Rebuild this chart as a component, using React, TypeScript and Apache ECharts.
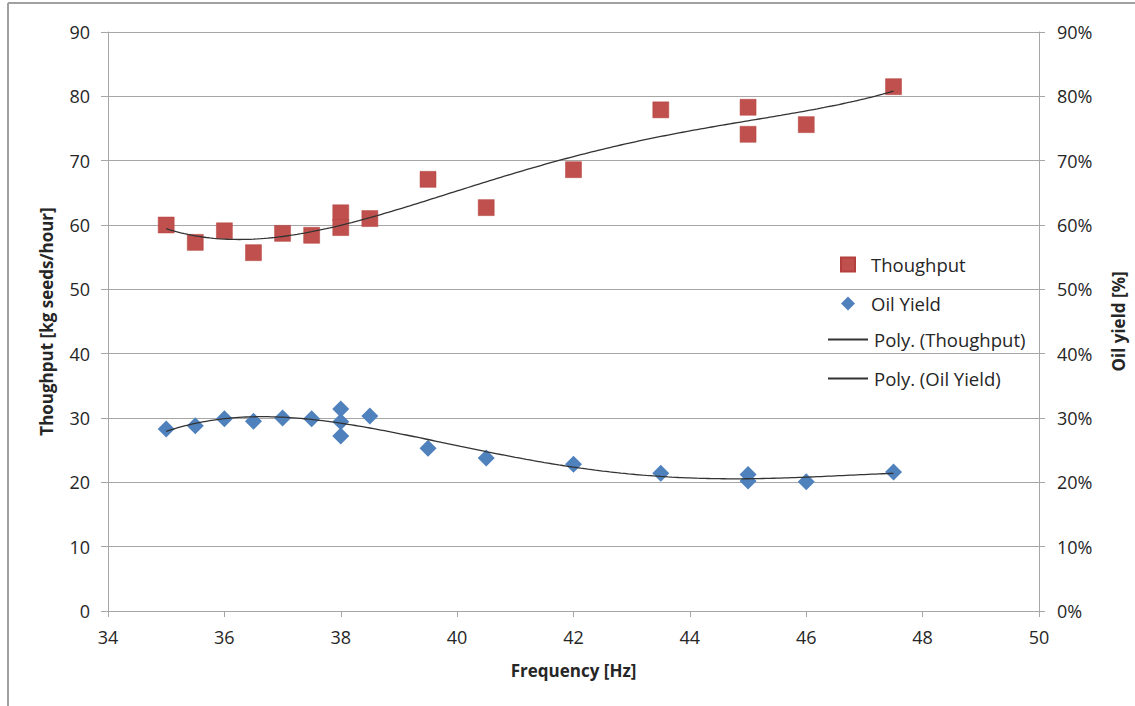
import React, { useEffect, useRef } from "react";
import * as echarts from "echarts";

const freqThroughput = [35, 35.5, 36, 36.5, 37, 37.5, 38, 38, 38.5, 39.5, 40.5, 42, 43.5, 45, 45, 46, 47.5];
const throughput = [60.0, 57.3, 59.1, 55.7, 58.7, 58.4, 61.9, 59.6, 61.0, 67.1, 62.7, 68.6, 77.9, 78.3, 74.1, 75.6, 81.5];

const freqOil = [35, 35.5, 36, 36.5, 37, 37.5, 38, 38, 38, 38.5, 39.5, 40.5, 42, 43.5, 45, 45, 46, 47.5];
const oilYield = [28.3, 28.8, 29.9, 29.5, 30.0, 29.9, 31.4, 29.4, 27.2, 30.3, 25.3, 23.8, 22.8, 21.4, 21.2, 20.2, 20.1, 21.6];

const xTicks = { min: 34, max: 50, interval: 2 };
const leftTicks = { min: 0, max: 90, interval: 10 };
const rightTicks = { min: 0, max: 90, interval: 10 };

const POLY_DEGREE = 4;

function polyFit(xs: number[], ys: number[], deg: number) {
  const c = 41, s = 6;
  const n = deg + 1;
  const A: number[][] = Array.from({ length: n }, () => new Array(n + 1).fill(0));
  for (let k = 0; k < xs.length; k++) {
    const t = (xs[k] - c) / s;
    const pw: number[] = [];
    for (let i = 0; i < 2 * n; i++) pw.push(Math.pow(t, i));
    for (let i = 0; i < n; i++) {
      for (let j = 0; j < n; j++) A[i][j] += pw[i + j];
      A[i][n] += pw[i] * ys[k];
    }
  }
  for (let i = 0; i < n; i++) {
    let p = i;
    for (let r = i + 1; r < n; r++) if (Math.abs(A[r][i]) > Math.abs(A[p][i])) p = r;
    [A[i], A[p]] = [A[p], A[i]];
    for (let r = 0; r < n; r++) {
      if (r === i) continue;
      const f = A[r][i] / A[i][i];
      for (let j = i; j <= n; j++) A[r][j] -= f * A[i][j];
    }
  }
  const coef = A.map((row, i) => row[n] / row[i]);
  return (x: number) => {
    const t = (x - c) / s;
    let v = 0;
    for (let i = n - 1; i >= 0; i--) v = v * t + coef[i];
    return v;
  };
}

function curve(xs: number[], ys: number[]) {
  const f = polyFit(xs, ys, POLY_DEGREE);
  const lo = Math.min(...xs), hi = Math.max(...xs);
  const pts: number[][] = [];
  for (let i = 0; i <= 200; i++) {
    const x = lo + ((hi - lo) * i) / 200;
    pts.push([x, f(x)]);
  }
  return pts;
}

export default function App() {
  const ref = useRef<HTMLDivElement>(null);
  useEffect(() => {
    if (!ref.current) return;
    const chart = echarts.init(ref.current, null, { renderer: "svg" });
    const font = "'Open Sans', sans-serif";
    const gray = "#A6A6A6";
    const txt = "#262626";
    const legendText = { fontFamily: font, fontSize: 18.5, color: txt };
    const titleStyle = { fontFamily: font, fontSize: 17, fontWeight: "bold", color: txt };
    chart.setOption({
      animation: false,
      backgroundColor: "#ffffff",
      textStyle: { fontFamily: font },
      grid: { left: 108, right: 91, top: 32, bottom: 95, containLabel: false },
      graphic: [
        { type: "line", shape: { x1: 8, y1: 3, x2: 1135, y2: 3 }, style: { stroke: "#A0A0A0", lineWidth: 2 } },
        { type: "line", shape: { x1: 8, y1: 3, x2: 8, y2: 706 }, style: { stroke: "#A0A0A0", lineWidth: 2 } },
      ],
      legend: [
        {
          orient: "vertical",
          left: 840,
          top: 255,
          padding: 0,
          itemWidth: 14,
          itemHeight: 14,
          itemGap: 20,
          textStyle: { ...legendText, padding: [0, 0, 0, 11] },
          data: [{ name: "Thoughput" }, { name: "Oil Yield" }],
        },
        {
          orient: "vertical",
          left: 828,
          top: 330,
          padding: 0,
          itemWidth: 40,
          itemHeight: 2,
          itemGap: 20,
          textStyle: { ...legendText, padding: [0, 0, 0, 1] },
          data: [
            { name: "Poly. (Thoughput)", icon: "rect" },
            { name: "Poly. (Oil Yield)", icon: "rect" },
          ],
        },
      ],
      xAxis: {
        type: "value",
        min: xTicks.min,
        max: xTicks.max,
        interval: xTicks.interval,
        name: "Frequency [Hz]",
        nameLocation: "middle",
        nameGap: 51,
        nameTextStyle: titleStyle,
        axisLine: { show: true, onZero: false, lineStyle: { color: gray, width: 1 } },
        axisTick: { show: true, length: 6, lineStyle: { color: gray } },
        axisLabel: { fontSize: 18, color: txt, margin: 17 },
        splitLine: { show: false },
      },
      yAxis: [
        {
          type: "value",
          min: leftTicks.min,
          max: leftTicks.max,
          interval: leftTicks.interval,
          name: "Thoughput [kg seeds/hour]",
          nameLocation: "middle",
          nameGap: 53,
          nameTextStyle: titleStyle,
          axisLine: { show: true, lineStyle: { color: gray, width: 1 } },
          axisTick: { show: true, length: 7, lineStyle: { color: gray } },
          axisLabel: { fontSize: 18, color: txt, margin: 18 },
          splitLine: { show: true, lineStyle: { color: gray, width: 1 } },
        },
        {
          type: "value",
          min: rightTicks.min,
          max: rightTicks.max,
          interval: rightTicks.interval,
          position: "right",
          name: "Oil yield [%]",
          nameLocation: "middle",
          nameGap: 71,
          nameRotate: 90,
          nameTextStyle: titleStyle,
          axisLine: { show: true, lineStyle: { color: gray, width: 1 } },
          axisTick: { show: true, length: 6, lineStyle: { color: gray } },
          axisLabel: { fontSize: 18, color: txt, margin: 18, formatter: "{value}%" },
          splitLine: { show: false },
        },
      ],
      series: [
        {
          name: "Thoughput",
          type: "scatter",
          symbol: "rect",
          symbolSize: 16,
          itemStyle: { color: "#C0504D", opacity: 1, borderColor: "#B4403D", borderWidth: 0.5 },
          data: freqThroughput.map((x, i) => [x, throughput[i]]),
          z: 2,
        },
        {
          name: "Oil Yield",
          type: "scatter",
          symbol: "diamond",
          symbolSize: 17,
          yAxisIndex: 1,
          itemStyle: { color: "#4F81BD", opacity: 1 },
          data: freqOil.map((x, i) => [x, oilYield[i]]),
          z: 2,
        },
        {
          name: "Poly. (Thoughput)",
          type: "line",
          symbol: "none",
          lineStyle: { color: "#333333", width: 1.3 },
          itemStyle: { color: "#333333" },
          data: curve(freqThroughput, throughput),
          z: 3,
        },
        {
          name: "Poly. (Oil Yield)",
          type: "line",
          symbol: "none",
          yAxisIndex: 1,
          lineStyle: { color: "#333333", width: 1.3 },
          itemStyle: { color: "#333333" },
          data: curve(freqOil, oilYield),
          z: 3,
        },
      ],
    });
    return () => chart.dispose();
  }, []);
  return <div ref={ref} style={{ position: "fixed", left: 0, top: 0, width: 1135, height: 706 }} />;
}
